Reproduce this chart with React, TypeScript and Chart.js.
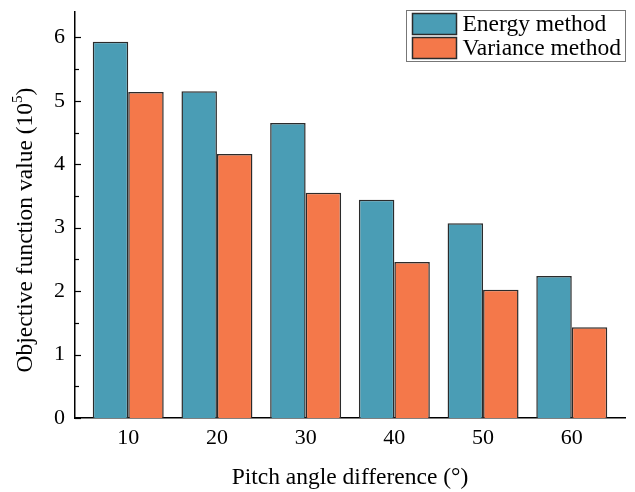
import React, { useEffect, useRef } from "react";
import { Chart, registerables } from "chart.js";

Chart.register(...registerables);

const categories = [10, 20, 30, 40, 50, 60];
const energyValues = [5.93, 5.15, 4.65, 3.44, 3.07, 2.24];
const varianceValues = [5.14, 4.16, 3.55, 2.46, 2.02, 1.43];
const yTickValues = [0, 1, 2, 3, 4, 5, 6];
const seriesNames = ["Energy method", "Variance method"];

const FONT = '"Liberation Serif", "Times New Roman", serif';

const innerTicks = {
  id: "innerTicks",
  afterDraw(chart: any) {
    const ctx = chart.ctx;
    const y = chart.scales.y;
    const left = chart.chartArea.left;
    ctx.save();
    ctx.strokeStyle = "#000";
    ctx.lineWidth = 1.2;
    for (let v = 0; v <= 6.4; v += 0.5) {
      const major = Math.abs(v - Math.round(v)) < 1e-6;
      const py = Math.round(y.getPixelForValue(v)) + 0.5;
      ctx.beginPath();
      ctx.moveTo(left, py);
      ctx.lineTo(left + (major ? 6 : 4), py);
      ctx.stroke();
    }
    ctx.restore();
  },
};

const customText = {
  id: "customText",
  afterDraw(chart: any) {
    const ctx = chart.ctx;
    const area = chart.chartArea;
    ctx.save();
    const main = "Objective function value (10";
    const sup = "5";
    const tail = ")";
    const big = `23.5px ${FONT}`;
    const small = `15px ${FONT}`;
    ctx.font = big;
    const w1 = ctx.measureText(main).width;
    const w3 = ctx.measureText(tail).width;
    ctx.font = small;
    const w2 = ctx.measureText(sup).width;
    const total = w1 + w2 + w3;
    ctx.translate(26, (area.top + area.bottom) / 2 + 15);
    ctx.rotate(-Math.PI / 2);
    ctx.fillStyle = "#000";
    ctx.textBaseline = "middle";
    ctx.textAlign = "left";
    ctx.font = big;
    ctx.fillText(main, -total / 2, 0);
    ctx.font = small;
    ctx.fillText(sup, -total / 2 + w1, -8);
    ctx.font = big;
    ctx.fillText(tail, -total / 2 + w1 + w2, 0);
    ctx.restore();

    // Legend
    ctx.save();
    const boxW = 219;
    const boxH = 51;
    const bx = area.right - boxW + 0.5;
    const by = area.top - 2 + 0.5;
    ctx.fillStyle = "#fff";
    ctx.fillRect(bx, by, boxW, boxH);
    ctx.strokeStyle = "#777";
    ctx.lineWidth = 1;
    ctx.strokeRect(bx, by, boxW, boxH);
    chart.data.datasets.forEach((ds: any, i: number) => {
      const sy = by + 3 + i * 24;
      ctx.fillStyle = ds.backgroundColor;
      ctx.fillRect(bx + 6, sy, 44, 21);
      ctx.strokeStyle = "#2b2b2b";
      ctx.lineWidth = 1.5;
      ctx.strokeRect(bx + 6, sy, 44, 21);
      ctx.fillStyle = "#000";
      ctx.font = `23.5px ${FONT}`;
      ctx.textBaseline = "middle";
      ctx.textAlign = "left";
      ctx.fillText(ds.label, bx + 56, sy + 11.5);
    });
    ctx.restore();
  },
};

export default function App() {
  const ref = useRef<HTMLCanvasElement | null>(null);
  useEffect(() => {
    if (!ref.current) return;
    const chart = new Chart(ref.current, {
      type: "bar",
      data: {
        datasets: [
          {
            label: seriesNames[0],
            data: categories.map((c, i) => ({ x: c, y: energyValues[i] })),
            backgroundColor: "#4A9DB5",
            borderColor: "#2b2b2b",
            borderWidth: 1.5,
            categoryPercentage: 0.8,
            barPercentage: 1.0,
          },
          {
            label: seriesNames[1],
            data: categories.map((c, i) => ({ x: c, y: varianceValues[i] })),
            backgroundColor: "#F4784A",
            borderColor: "#2b2b2b",
            borderWidth: 1.5,
            categoryPercentage: 0.8,
            barPercentage: 1.0,
          },
        ],
      },
      options: {
        responsive: false,
        animation: false,
        layout: { padding: { top: 12, right: 10, left: 0, bottom: 0 } },
        plugins: {
          legend: { display: false },
          tooltip: { enabled: false },
        },
        scales: {
          x: {
            type: "linear",
            offset: false,
            min: 4,
            max: 66,
            afterBuildTicks: (axis: any) => {
              axis.ticks = categories.map((v) => ({ value: v }));
            },
            afterFit: (axis: any) => {
              axis.height = 74;
              axis.paddingLeft = 0;
              axis.paddingRight = 0;
            },
            grid: { display: false, drawTicks: false, offset: false },
            border: { display: true, color: "#000", width: 1.5 },
            ticks: {
              color: "#000",
              font: { family: FONT, size: 22 },
              padding: 7,
              maxRotation: 0,
              autoSkip: false,
            },
            title: {
              display: true,
              text: "Pitch angle difference (°)",
              color: "#000",
              font: { family: FONT, size: 23.5 },
              padding: { top: 10, bottom: 0 },
            },
          },
          y: {
            min: 0,
            max: 6.4,
            afterBuildTicks: (axis: any) => {
              axis.ticks = yTickValues.map((v) => ({ value: v }));
            },
            afterFit: (axis: any) => {
              axis.width = 75;
              axis.paddingTop = 0;
              axis.paddingBottom = 0;
            },
            grid: { display: false, drawTicks: false },
            border: { display: true, color: "#000", width: 1.5 },
            ticks: {
              color: "#000",
              font: { family: FONT, size: 22 },
              padding: 10,
            },
            title: { display: false },
          },
        },
      },
      plugins: [innerTicks, customText],
    });
    return () => chart.destroy();
  }, []);
  return (
    <div style={{ position: "fixed", left: 0, top: 0, width: 635, height: 492, background: "#fff" }}>
      <canvas ref={ref} width={635} height={492} />
    </div>
  );
}
